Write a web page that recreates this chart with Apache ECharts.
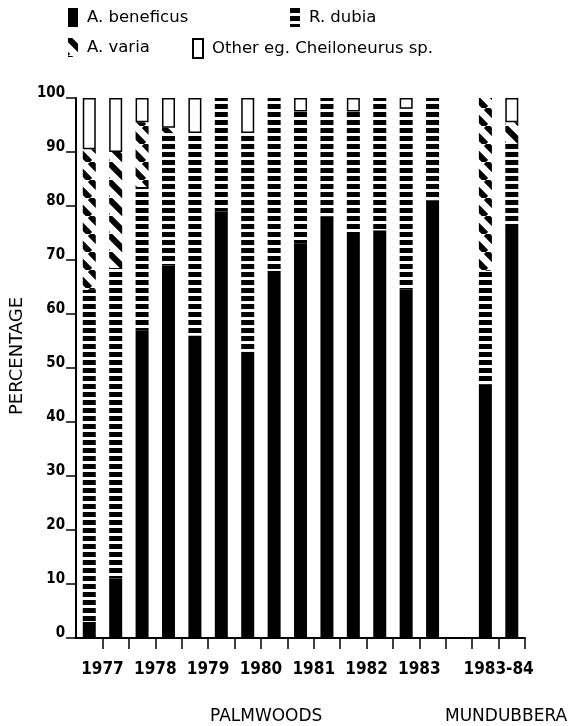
<!DOCTYPE html>
<html>
<head>
<meta charset="utf-8">
<script src="https://cdn.jsdelivr.net/npm/echarts@6/dist/echarts.min.js"></script>
<style>
html,body{margin:0;padding:0;background:#fff;}
#chart{width:568px;height:726px;}
</style>
</head>
<body>
<div id="chart"></div>
<script>
// ---- data ----
const categories = ['1977a','1977b','1978a','1978b','1979a','1979b','1980a','1980b','1981a','1981b','1982a','1982b','1983a','1983b','gap','1983-84a','1983-84b'];
const tickLabels = ['', '1977', '', '1978', '', '1979', '', '1980', '', '1981', '', '1982', '', '1983', '', '', '1983-84', ''];
const seriesNames = ['A. beneficus', 'R. dubia', 'A. varia', 'Other eg. Cheiloneurus sp.'];
const beneficus = [3, 11, 57, 69, 56, 79, 53, 68, 73, 78, 75, 75.5, 64.5, 81, '-', 47, 76.5];
const dubia     = [61.5, 57.5, 26.5, 24.5, 37.5, 21, 40.5, 32, 24.5, 22, 22.5, 24.5, 33.5, 19, '-', 21, 15];
const varia     = [26, 21.5, 12, 1, '-', '-', '-', '-', '-', '-', '-', '-', '-', '-', '-', 32, 4];
const other     = [9.5, 10, 4.5, 5.5, 6.5, '-', 6.5, '-', 2.5, '-', 2.5, '-', 2, '-', '-', '-', 4.5];
const siteLabels = ['PALMWOODS', 'MUNDUBBERA'];
const yMin = 0, yMax = 100, yInterval = 10;

// ---- patterns ----
function makeStripes() {
  const c = document.createElement('canvas');
  c.width = 8; c.height = 8;
  const g = c.getContext('2d');
  g.fillStyle = '#fff'; g.fillRect(0, 0, 8, 8);
  g.fillStyle = '#000'; g.fillRect(0, 0, 8, 5);
  return c;
}
function makeHatch() {
  const s = 18;
  const c = document.createElement('canvas');
  c.width = s; c.height = s;
  const g = c.getContext('2d');
  g.fillStyle = '#fff'; g.fillRect(0, 0, s, s);
  g.strokeStyle = '#000'; g.lineWidth = 6;
  g.beginPath();
  [-s, 0, s].forEach(function (x0) { g.moveTo(x0, 0); g.lineTo(x0 + s, s); });
  g.stroke();
  return c;
}
const stripePattern = { image: makeStripes(), repeat: 'repeat' };
const hatchPattern = { image: makeHatch(), repeat: 'repeat' };

const numFont = '"Liberation Sans Narrow", "DejaVu Sans Condensed", sans-serif';
const lightFont = '"DejaVu Sans", sans-serif';

const chart = echarts.init(document.getElementById('chart'), null, { renderer: 'canvas' });

function legendAt(name, left, top) {
  return {
    data: [name], left: left, top: top, icon: 'rect', itemWidth: 10, itemHeight: 19,
    selectedMode: false, padding: 0,
    textStyle: { fontFamily: lightFont, fontWeight: 'normal', fontSize: 16.5, color: '#000', padding: [0, 0, 0, 4] }
  };
}

const barW = 13;
const option = {
  animation: false,
  backgroundColor: '#fff',
  textStyle: { fontFamily: lightFont, color: '#000' },
  title: [
    { text: siteLabels[0], left: 205, top: 703, textStyle: { fontFamily: lightFont, fontWeight: 'normal', fontSize: 17, color: '#000' } },
    { text: siteLabels[1], left: 440, top: 703, textStyle: { fontFamily: lightFont, fontWeight: 'normal', fontSize: 17, color: '#000' } }
  ],
  legend: [
    legendAt(seriesNames[0], 68, 8),
    legendAt(seriesNames[1], 290, 8),
    legendAt(seriesNames[2], 68, 38),
    legendAt(seriesNames[3], 192, 38)
  ],
  grid: { left: 68, right: 43, top: 98, bottom: 88, containLabel: false },
  xAxis: [
    {
      type: 'category', data: categories, position: 'bottom',
      axisLine: { show: true, lineStyle: { color: '#000', width: 2 } },
      axisTick: { show: false }, axisLabel: { show: false }, splitLine: { show: false }
    },
    {
      type: 'category', data: tickLabels.map(function (_, i) { return 't' + i; }),
      boundaryGap: false, position: 'bottom', offset: 0,
      axisLine: { show: false },
      axisTick: { show: true, length: 11, interval: function (i) { return i > 0; }, lineStyle: { color: '#000', width: 1.5 } },
      axisLabel: {
        show: true, interval: 0, margin: 23,
        formatter: function (v, i) { return tickLabels[i]; },
        fontFamily: numFont, fontWeight: 'bold', fontSize: 17, color: '#000'
      },
      splitLine: { show: false }
    }
  ],
  yAxis: {
    type: 'value', min: yMin, max: yMax, interval: yInterval,
    name: 'PERCENTAGE', nameLocation: 'middle', nameGap: 44, nameRotate: 90,
    nameTextStyle: { fontFamily: lightFont, fontWeight: 'normal', fontSize: 18, color: '#000', padding: [0, 0, 0, 24] },
    axisLine: { show: true, lineStyle: { color: '#000', width: 2 } },
    axisTick: { show: true, length: 10, lineStyle: { color: '#000', width: 1.5 } },
    axisLabel: {
      margin: 11, fontFamily: numFont, fontWeight: 'bold', fontSize: 15, color: '#000',
      verticalAlign: 'bottom', lineHeight: 9
    },
    splitLine: { show: false }
  },
  series: [
    { name: seriesNames[0], type: 'bar', stack: 'p', barWidth: barW, data: beneficus,
      itemStyle: { color: '#000' } },
    { name: seriesNames[1], type: 'bar', stack: 'p', barWidth: barW, data: dubia,
      itemStyle: { color: stripePattern } },
    { name: seriesNames[2], type: 'bar', stack: 'p', barWidth: barW, data: varia,
      itemStyle: { color: hatchPattern } },
    { name: seriesNames[3], type: 'bar', stack: 'p', barWidth: barW, data: other,
      itemStyle: { color: '#fff', borderColor: '#000', borderWidth: 1.5 } }
  ]
};
chart.setOption(option);
</script>
</body>
</html>
